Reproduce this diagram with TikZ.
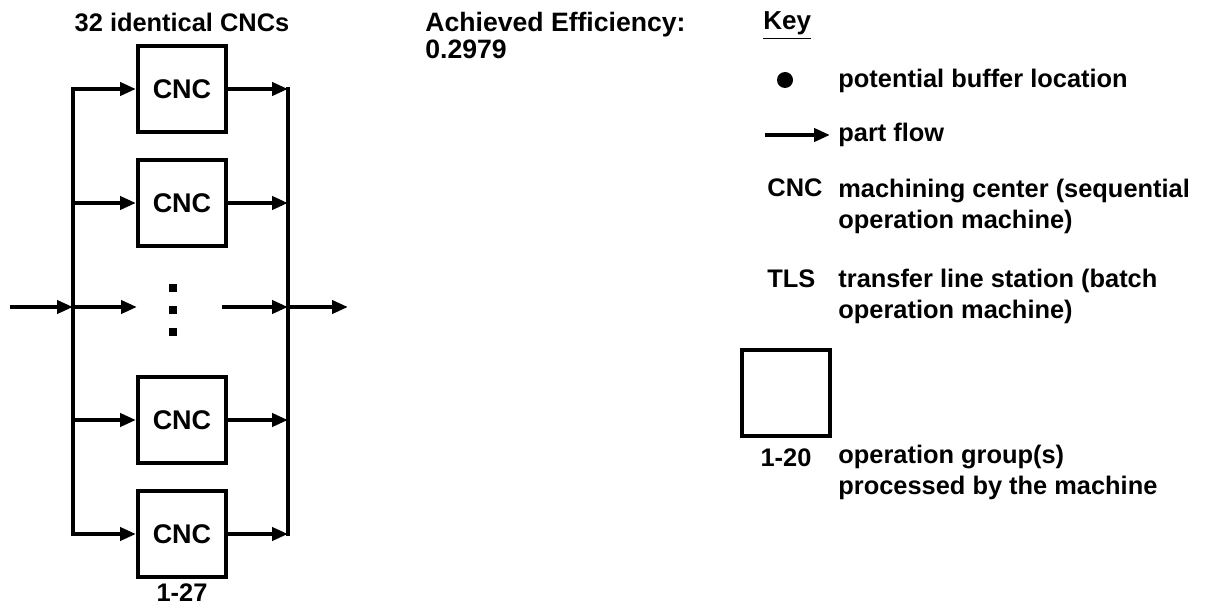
\documentclass[tikz,border=0pt]{standalone}
\usepackage{fontspec}
\setmainfont{Liberation Sans}
\usetikzlibrary{positioning,arrows.meta}

\begin{document}
\begin{tikzpicture}[
  x=0.5pt, y=-0.5pt,
  font=\fontsize{12.7}{15.5}\selectfont\bfseries,
  >={Triangle[length=8pt,width=6.5pt]},
  machine/.style={draw, line width=2pt, minimum width=44pt, minimum height=43pt,
    inner sep=0pt, font=\fontsize{13.5}{16}\selectfont\bfseries},
  flow/.style={->, line width=2pt},
  bus/.style={line width=2pt, line cap=rect},
  keytext/.style={anchor=base west, align=left, inner sep=0pt},
  keyblock/.style={anchor=north west, align=left, inner sep=0pt},
  buffer/.style={circle, fill, inner sep=0pt, minimum size=8pt},
  vdot/.style={rectangle, fill, inner sep=0pt, minimum size=3.6pt}
]
\useasboundingbox (0,0) rectangle (1208,609);

% ---------- PARALLEL CNC CELL ----------
\node[anchor=base] (title) at (182,32) {32 identical CNCs};

\node[machine] (cnc1) at (182,89) {CNC};
\node[machine, below=12pt of cnc1] (cnc2) {CNC};
\node[machine] (cnc3) at (182,420) {CNC};
\node[machine, below=12pt of cnc3] (cnc4) {CNC};
\node[below=1pt of cnc4, inner sep=1pt] (ops) {1-27};

% vertical ellipsis between the machines
\node[vdot] (d1) at (173,288) {};
\node[vdot, below=7pt of d1] (d2) {};
\node[vdot, below=7pt of d2] (d3) {};

% split and merge buses
\coordinate (lt) at (73,90);
\coordinate (rt) at (288,90);
\coordinate (in)   at (10,307);
\coordinate (out)  at (348,307);
\coordinate (midL) at (137,307);
\coordinate (midR) at (222,307);

\draw[bus] (cnc1.west -| lt) -- (cnc4.west -| lt);
\draw[bus] (cnc1.east -| rt) -- (cnc4.east -| rt);

% part flow
\draw[flow] (in) -- (in -| lt);
\draw[flow] (in -| lt) -- (midL);
\draw[flow] (midR) -- (midR -| rt);
\draw[flow] (midR -| rt) -- (out);
\draw[flow] (cnc1.west -| lt) -- (cnc1.west);
\draw[flow] (cnc2.west -| lt) -- (cnc2.west);
\draw[flow] (cnc3.west -| lt) -- (cnc3.west);
\draw[flow] (cnc4.west -| lt) -- (cnc4.west);
\draw[flow] (cnc1.east) -- (cnc1.east -| rt);
\draw[flow] (cnc2.east) -- (cnc2.east -| rt);
\draw[flow] (cnc3.east) -- (cnc3.east -| rt);
\draw[flow] (cnc4.east) -- (cnc4.east -| rt);

% ---------- RESULT ----------
\node[keyblock, font=\fontsize{13.3}{15.5}\selectfont\bfseries] (eff) at (425,12)
  {Achieved Efficiency:\\[-2pt]0.2979};

% ---------- KEY ----------
\node[keytext, font=\fontsize{13}{15.5}\selectfont\bfseries] (key) at (763,30) {\underline{Key}};

\node[buffer] (bufkey) at (785,80) {};
\node[keytext] (buftext) at (838,88) {potential buffer location};

\coordinate (flowA) at (765,135);
\coordinate (flowB) at (830,135);
\draw[flow] (flowA) -- (flowB);
\node[keytext] (flowtext) at (838,142) {part flow};

\node[keytext] (cnckey) at (767,197) {CNC};
\node[keyblock] (cnctext) at (838,179) {machining center (sequential\\operation machine)};

\node[keytext] (tlskey) at (767,287) {TLS};
\node[keyblock] (tlstext) at (838,269) {transfer line station (batch\\operation machine)};

\node[machine] (keybox) at (786,393) {};
\node[below=2pt of keybox] (keyops) {1-20};
\node[keyblock] (opstext) at (838,445) {operation group(s)\\processed by the machine};

\end{tikzpicture}
\end{document}
